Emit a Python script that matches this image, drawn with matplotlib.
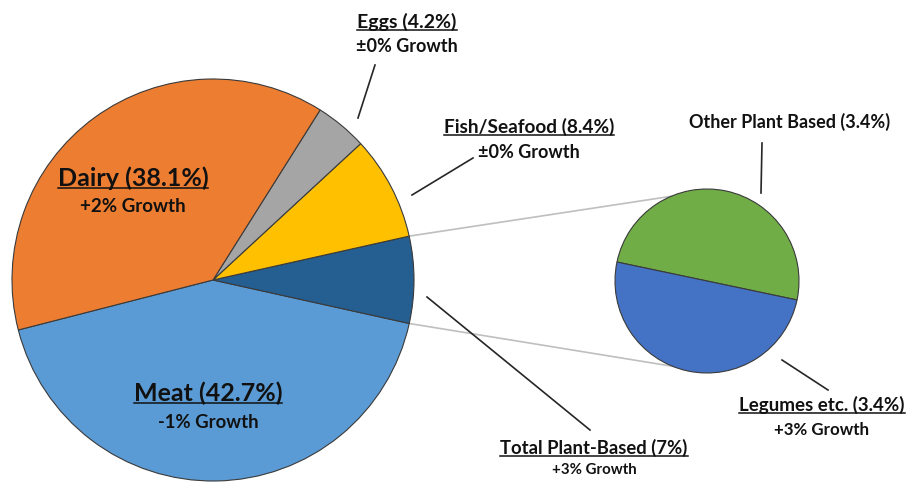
import matplotlib
matplotlib.use("Agg")
import matplotlib.pyplot as plt
import numpy as np

plt.rcParams['font.family'] = ['Lato', 'DejaVu Sans']

# ---- data ----
main_labels = ["Meat", "Total Plant-Based", "Fish/Seafood", "Eggs", "Dairy"]
main_values = [42.7, 7.0, 8.4, 4.2, 38.1]
main_growth = ["-1% Growth", "+3% Growth", "±0% Growth", "±0% Growth", "+2% Growth"]
main_colors = ["#5B9BD5", "#255E91", "#FFC000", "#A5A5A5", "#ED7D31"]

sub_labels = ["Other Plant Based", "Legumes etc."]
sub_values = [3.4, 3.4]
sub_growth = [None, "+3% Growth"]
sub_colors = ["#70AD47", "#4472C4"]

W, H = 907, 482
fig = plt.figure(figsize=(W / 100, H / 100), dpi=100)
ax = fig.add_axes([0, 0, 1, 1])

def py(y):
    return H - y

main_c = (213, py(280))
main_r = 201
main_start = 194.4
sub_c = (707, py(281))
sub_r = 92
sub_start = -11.9

edge = dict(edgecolor="#3a3a3a", linewidth=0.8)
ax.pie(main_values, colors=main_colors, startangle=main_start, counterclock=True,
       center=main_c, radius=main_r, wedgeprops=edge, frame=True)
ax.pie(sub_values, colors=sub_colors, startangle=sub_start, counterclock=True,
       center=sub_c, radius=sub_r, wedgeprops=edge, frame=True)
ax.set_xlim(0, W)
ax.set_ylim(0, H)
ax.set_aspect('equal')
ax.axis('off')

# connector lines between plant-based wedge and secondary pie
tot = sum(main_values)
a1 = main_start + main_values[0] / tot * 360
a2 = a1 + main_values[1] / tot * 360
p_low = (main_c[0] + main_r * np.cos(np.radians(a1)), main_c[1] + main_r * np.sin(np.radians(a1)))
p_high = (main_c[0] + main_r * np.cos(np.radians(a2)), main_c[1] + main_r * np.sin(np.radians(a2)))
s_top = (sub_c[0] + sub_r * np.cos(np.radians(113)), sub_c[1] + sub_r * np.sin(np.radians(113)))
s_bot = (sub_c[0] + sub_r * np.cos(np.radians(248)), sub_c[1] + sub_r * np.sin(np.radians(248)))
ax.plot([p_high[0], s_top[0]], [p_high[1], s_top[1]], color="#BFBFBF", lw=1.2, zorder=0)
ax.plot([p_low[0], s_bot[0]], [p_low[1], s_bot[1]], color="#BFBFBF", lw=1.2, zorder=0)

# leader lines
lead = dict(color="#262626", lw=1.2)
ax.plot([375, 358], [py(65), py(118)], **lead)
ax.plot([473, 412], [py(158), py(195)], **lead)
ax.plot([427, 590], [py(297), py(430)], **lead)
ax.plot([762, 761], [py(143), py(193)], **lead)
ax.plot([782, 828], [py(360), py(390)], **lead)

underlined = []
def label(x, y, title, growth, size=13.7, gsize=13, underline=True, gap=26):
    t = ax.text(x, py(y), title, ha='center', va='center', fontsize=size,
                fontweight='bold', color='#111111')
    if underline:
        underlined.append(t)
    if growth:
        ax.text(x, py(y + gap), growth, ha='center', va='center', fontsize=gsize,
                fontweight='bold', color='#111111')

label(133, 178, f"{main_labels[4]} ({main_values[4]}%)", main_growth[4], size=18, gsize=13.5, gap=29)
label(208, 393, f"{main_labels[0]} ({main_values[0]}%)", main_growth[0], size=18, gsize=13.3, gap=29)
label(407, 22, f"{main_labels[3]} ({main_values[3]}%)", main_growth[3], size=14, gsize=13, gap=25)
label(529, 127, f"{main_labels[2]} ({main_values[2]}%)", main_growth[2], size=13.7, gsize=13, gap=25)
label(594, 448, f"{main_labels[1]} ({main_values[1]:g}%)", main_growth[1], size=13.3, gsize=10.8, gap=22)
label(790, 122, f"{sub_labels[0]} ({sub_values[0]}%)", None, size=13, underline=False)
label(822, 405, f"{sub_labels[1]} ({sub_values[1]}%)", sub_growth[1], size=13.5, gsize=12.2, gap=25)

fig.canvas.draw()
r = fig.canvas.get_renderer()
inv = ax.transData.inverted()
for t in underlined:
    bb = t.get_window_extent(r)
    (x0, y0), (x1, y1) = inv.transform([(bb.x0, bb.y0), (bb.x1, bb.y1)])
    ax.plot([x0, x1], [y0 + 1.5, y0 + 1.5], color='#111111', lw=1.1)

fig.savefig("out.png", dpi=100)
